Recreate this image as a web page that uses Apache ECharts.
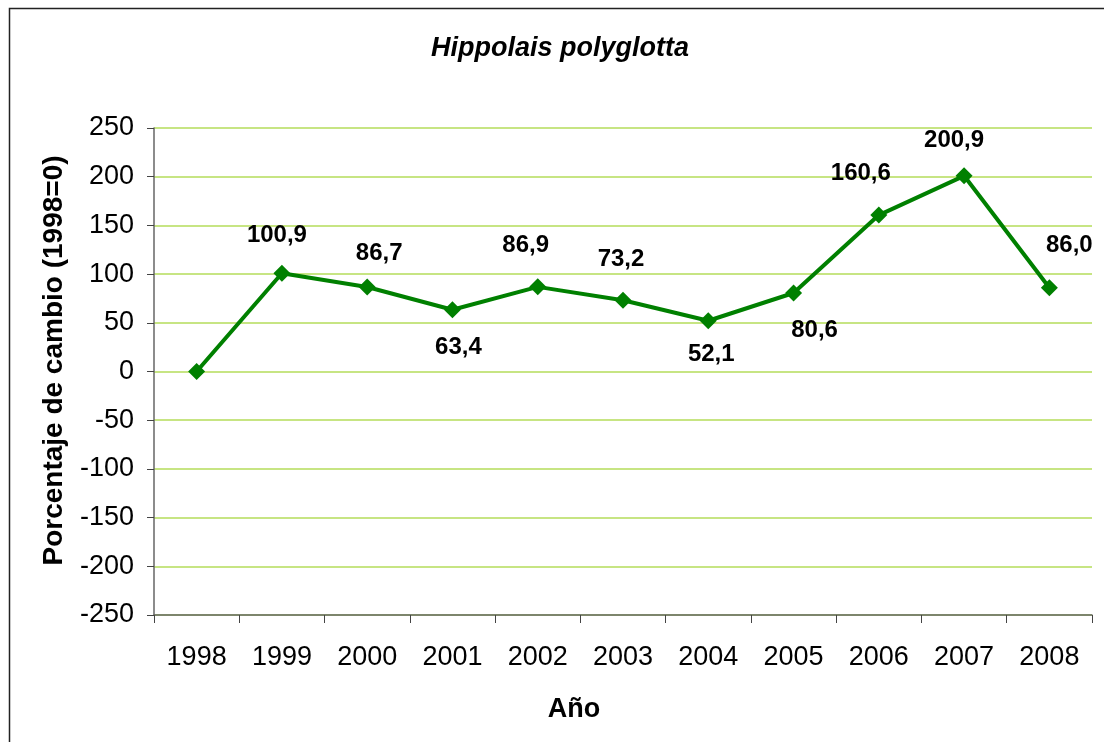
<!DOCTYPE html>
<html>
<head>
<meta charset="utf-8">
<script src="https://cdn.jsdelivr.net/npm/echarts@6/dist/echarts.min.js"></script>
<style>
html,body{margin:0;padding:0;background:#fff;}
#chart{width:1104px;height:742px;}
</style>
</head>
<body>
<div id="chart"></div>
<script>
const titleText = 'Hippolais polyglotta';
const xAxisName = 'Año';
const yAxisName = 'Porcentaje de cambio (1998=0)';
const years = ['1998','1999','2000','2001','2002','2003','2004','2005','2006','2007','2008'];
const values = [0, 100.9, 86.7, 63.4, 86.9, 73.2, 52.1, 80.6, 160.6, 200.9, 86.0];
const yMin = -250, yMax = 250, yStep = 50;

// label placement relative to each point (pixels)
const labelOffsets = [null, [-5,-38], [12,-34], [6,38], [-12,-41], [-2,-41], [3,34], [21,37], [-18,-42], [-10,-35], [20,-42]];

const FONT = "'Liberation Sans', Arial, sans-serif";

const seriesData = values.map((v, i) => {
  const off = labelOffsets[i];
  return {
    value: v,
    label: off ? { show: true, position: 'inside', offset: off } : { show: false }
  };
});

const chart = echarts.init(document.getElementById('chart'), null, { renderer: 'canvas' });
chart.setOption({
  backgroundColor: '#ffffff',
  animation: false,
  title: {
    text: titleText,
    left: 431,
    top: 35,
    padding: 0,
    textStyle: { fontFamily: FONT, fontSize: 27, fontStyle: 'italic', fontWeight: 'bold', color: '#000' }
  },
  graphic: [{
    type: 'rect',
    shape: { x: 9.5, y: 8.5, width: 1110, height: 760 },
    style: { fill: 'none', stroke: '#222', lineWidth: 1.5 },
    silent: true
  }],
  grid: { left: 154, right: 12, top: 128, bottom: 127, containLabel: false },
  xAxis: {
    type: 'category',
    data: years,
    boundaryGap: true,
    name: xAxisName,
    nameLocation: 'middle',
    nameGap: 81,
    nameTextStyle: { fontFamily: FONT, fontSize: 27, fontWeight: 'bold', color: '#000', padding: [0, 98, 0, 0] },
    axisLine: { onZero: false, lineStyle: { color: '#666', width: 1.5 } },
    axisTick: { show: true, length: 8, inside: false, alignWithLabel: false, lineStyle: { color: '#444', width: 1 } },
    axisLabel: { margin: 29, fontFamily: FONT, fontSize: 27, color: '#000', interval: 0 },
    splitLine: { show: false }
  },
  yAxis: {
    type: 'value',
    min: yMin,
    max: yMax,
    interval: yStep,
    name: yAxisName,
    nameLocation: 'middle',
    nameRotate: 90,
    nameGap: 86,
    nameTextStyle: { fontFamily: FONT, fontSize: 28, fontWeight: 'bold', color: '#000', padding: [0, 0, 0, 22] },
    axisLine: { show: true, lineStyle: { color: '#666', width: 1.5 } },
    axisTick: { show: true, length: 7, inside: false, lineStyle: { color: '#444', width: 1 } },
    axisLabel: { margin: 20, fontFamily: FONT, fontSize: 27, color: '#000' },
    splitLine: { show: true, lineStyle: { color: '#b5dc5a', width: 1.5 } }
  },
  series: [{
    type: 'line',
    data: seriesData,
    symbol: 'diamond',
    symbolSize: 17,
    showAllSymbol: true,
    lineStyle: { color: '#008000', width: 4 },
    itemStyle: { color: '#008000' },
    label: {
      fontFamily: FONT,
      fontSize: 24,
      fontWeight: 'bold',
      color: '#000',
      formatter: p => p.value.toFixed(1).replace('.', ',')
    },
    emphasis: { disabled: true },
    z: 3
  }]
});
</script>
</body>
</html>
